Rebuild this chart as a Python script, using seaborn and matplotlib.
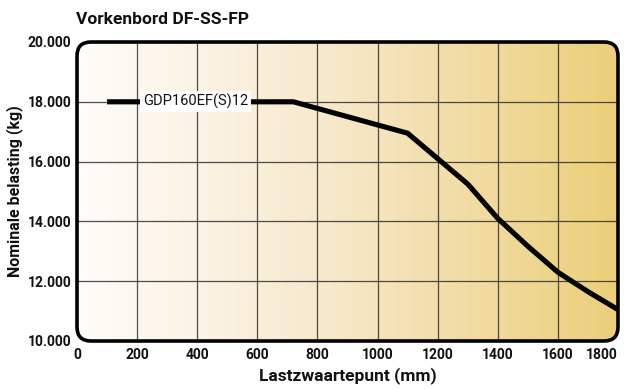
import numpy as np
import pandas as pd
import matplotlib
matplotlib.use("Agg")
import matplotlib.pyplot as plt
from matplotlib.colors import LinearSegmentedColormap
from matplotlib.patches import FancyBboxPatch
import seaborn as sns

# Load curve for the fork carriage
load_center_mm = [100, 720, 1100, 1300, 1400, 1500, 1600, 1700, 1800]
capacity_kg = [18000, 18000, 16950, 15250, 14100, 13170, 12300, 11650, 11050]
series_name = "GDP160EF(S)12"

x_ticks = [0, 200, 400, 600, 800, 1000, 1200, 1400, 1600, 1800]
y_ticks = [10000, 12000, 14000, 16000, 18000, 20000]
y_tick_labels = ["10.000", "12.000", "14.000", "16.000", "18.000", "20.000"]

title = "Vorkenbord DF-SS-FP"
x_label = "Lastzwaartepunt (mm)"
y_label = "Nominale belasting (kg)"

sns.set_theme(style="white")
plt.rcParams["font.family"] = ["Roboto", "DejaVu Sans"]

W, H = 630, 389
fig = plt.figure(figsize=(W / 100, H / 100), dpi=100)
ax_l, ax_r, ax_t, ax_b = 77, 618, 42, 341
ax = fig.add_axes([ax_l / W, 1 - ax_b / H, (ax_r - ax_l) / W, (ax_b - ax_t) / H])
ax_w, ax_h = ax_r - ax_l, ax_b - ax_t

ax.set_xlim(0, 1800)
ax.set_ylim(10000, 20000)
for s in ax.spines.values():
    s.set_visible(False)

# Rounded plot frame
r = 14 / ax_w
frame = FancyBboxPatch((0, 0), 1, 1, boxstyle=f"round,pad=0,rounding_size={r}",
                       mutation_aspect=ax_w / ax_h, transform=ax.transAxes,
                       facecolor="none", edgecolor="black", linewidth=2.6,
                       clip_on=False, zorder=10)
ax.add_patch(frame)

# Horizontal gradient background
cmap = LinearSegmentedColormap.from_list(
    "bg", [(0.0, "#fffdfa"), (0.45, "#f7e9cd"), (1.0, "#ebcf7a")])
grad = np.linspace(0, 1, 256).reshape(1, -1)
img = ax.imshow(grad, cmap=cmap, aspect="auto", extent=(0, 1, 0, 1),
                transform=ax.transAxes, zorder=0, interpolation="bicubic")
img.set_clip_path(frame)

# Grid
ax.set_xticks(x_ticks)
ax.set_yticks(y_ticks)
ax.set_yticklabels(y_tick_labels)
ax.grid(True, color="#222222", linewidth=0.9, alpha=0.8)
for gl in ax.get_xgridlines() + ax.get_ygridlines():
    gl.set_clip_path(frame)
    gl.set_zorder(1)

df = pd.DataFrame({"x": load_center_mm, "y": capacity_kg})
sns.lineplot(data=df, x="x", y="y", ax=ax, color="black", linewidth=3.7,
             zorder=5, solid_capstyle="butt", solid_joinstyle="miter")
for ln in ax.lines:
    ln.set_clip_path(frame)

ax.text(395, 18000, series_name, ha="center", va="center", fontsize=10.5,
        color="#111111", zorder=6,
        bbox=dict(boxstyle="square,pad=0.2", facecolor="white", edgecolor="none"))

ax.tick_params(axis="both", length=0, labelsize=10, pad=4)
for lab in ax.get_xticklabels() + ax.get_yticklabels():
    lab.set_fontweight("bold")
    lab.set_color("#111111")
ax.get_xticklabels()[-1].set_horizontalalignment("right")
ax.tick_params(axis="x", pad=5)

ax.set_xlabel(x_label, fontsize=12.5, fontweight="bold", color="#111111", labelpad=4)
ax.set_ylabel(y_label, fontsize=11.5, fontweight="bold", color="#111111",
              va="center", ha="center")
ax.yaxis.set_label_coords(-(ax_l - 15) / ax_w, 0.5)
fig.text(76 / W, 1 - 19 / H, title, ha="left", va="center", fontsize=12.5,
         fontweight="bold", color="#111111")

fig.savefig("out.png", dpi=100, facecolor="white")
